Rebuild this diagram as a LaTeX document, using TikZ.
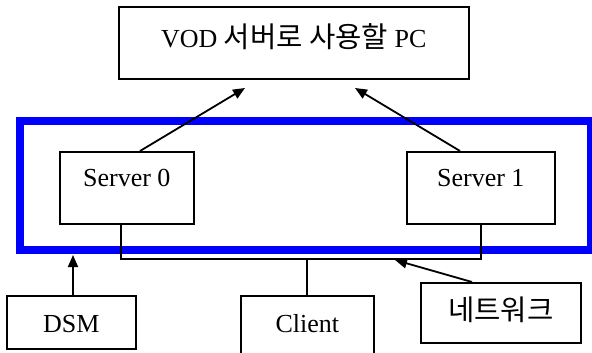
\documentclass[tikz,border=0pt]{standalone}
\usepackage{fontspec}
\setmainfont{Liberation Serif}
\newfontfamily\kr{Noto Sans CJK KR}[Scale=1.1]
\usetikzlibrary{arrows.meta,calc}
\begin{document}
\begin{tikzpicture}[x=1pt,y=-1pt,
  box/.style={draw, line width=1.6pt, rectangle, inner sep=0pt, anchor=north west},
  big/.style={font=\fontsize{26}{30}\selectfont},
  arr/.style={line width=1.8pt, -{Triangle[length=12pt,width=10pt]}},
  link/.style={line width=1.8pt}]
\useasboundingbox (0,0) rectangle (592,353);
\fill[white] (0,0) rectangle (592,353);
\clip (0,0) rectangle (592,353);

% cluster frame
\draw[blue, line width=8pt] (20,121) rectangle (591,250);

% boxes
\node[box, big, minimum width=350pt, text height=41pt, text depth=31pt] (pc) at (118,6)
      {VOD {\kr 서버로 사용할} PC\hspace{16pt}};
\node[box, big, minimum width=134pt, text height=35pt, text depth=37pt] (s0) at (59,151) {Server 0};
\node[box, big, minimum width=148pt, text height=35pt, text depth=37pt] (s1) at (406,151) {Server 1\hspace{20pt}};
\node[box, big, minimum width=129pt, text height=37pt, text depth=16pt] (dsm) at (6,295) {DSM};
\node[box, big, minimum width=133pt, text height=37pt, text depth=33pt] (cl) at (240,295) {Client};
\node[box, big, minimum width=160pt, text height=38pt, text depth=22pt] (net) at (420,282) {{\kr 네트워크}\hspace{14pt}};

% free ends of the arrows
\coordinate (pcL) at (245,88);
\coordinate (pcR) at (355,88);
\coordinate (frameB) at (73,255);
\coordinate (netTip) at (395,260);

% arrows
\draw[arr] ($(s0.north west)+(81,0)$) -- (pcL);
\draw[arr] ($(s1.north west)+(54,0)$) -- (pcR);
\draw[arr] ($(dsm.north west)+(67,0)$) -- (frameB);
\draw[arr] ($(net.north west)+(52,0)$) -- (netTip);

% network bus
\draw[link] ($(s0.south west)+(62,0)$) |- (308,259) -| ($(s1.south west)+(75,0)$);
\draw[link] (cl.north |- 0,259) -- (cl.north);
\end{tikzpicture}
\end{document}
